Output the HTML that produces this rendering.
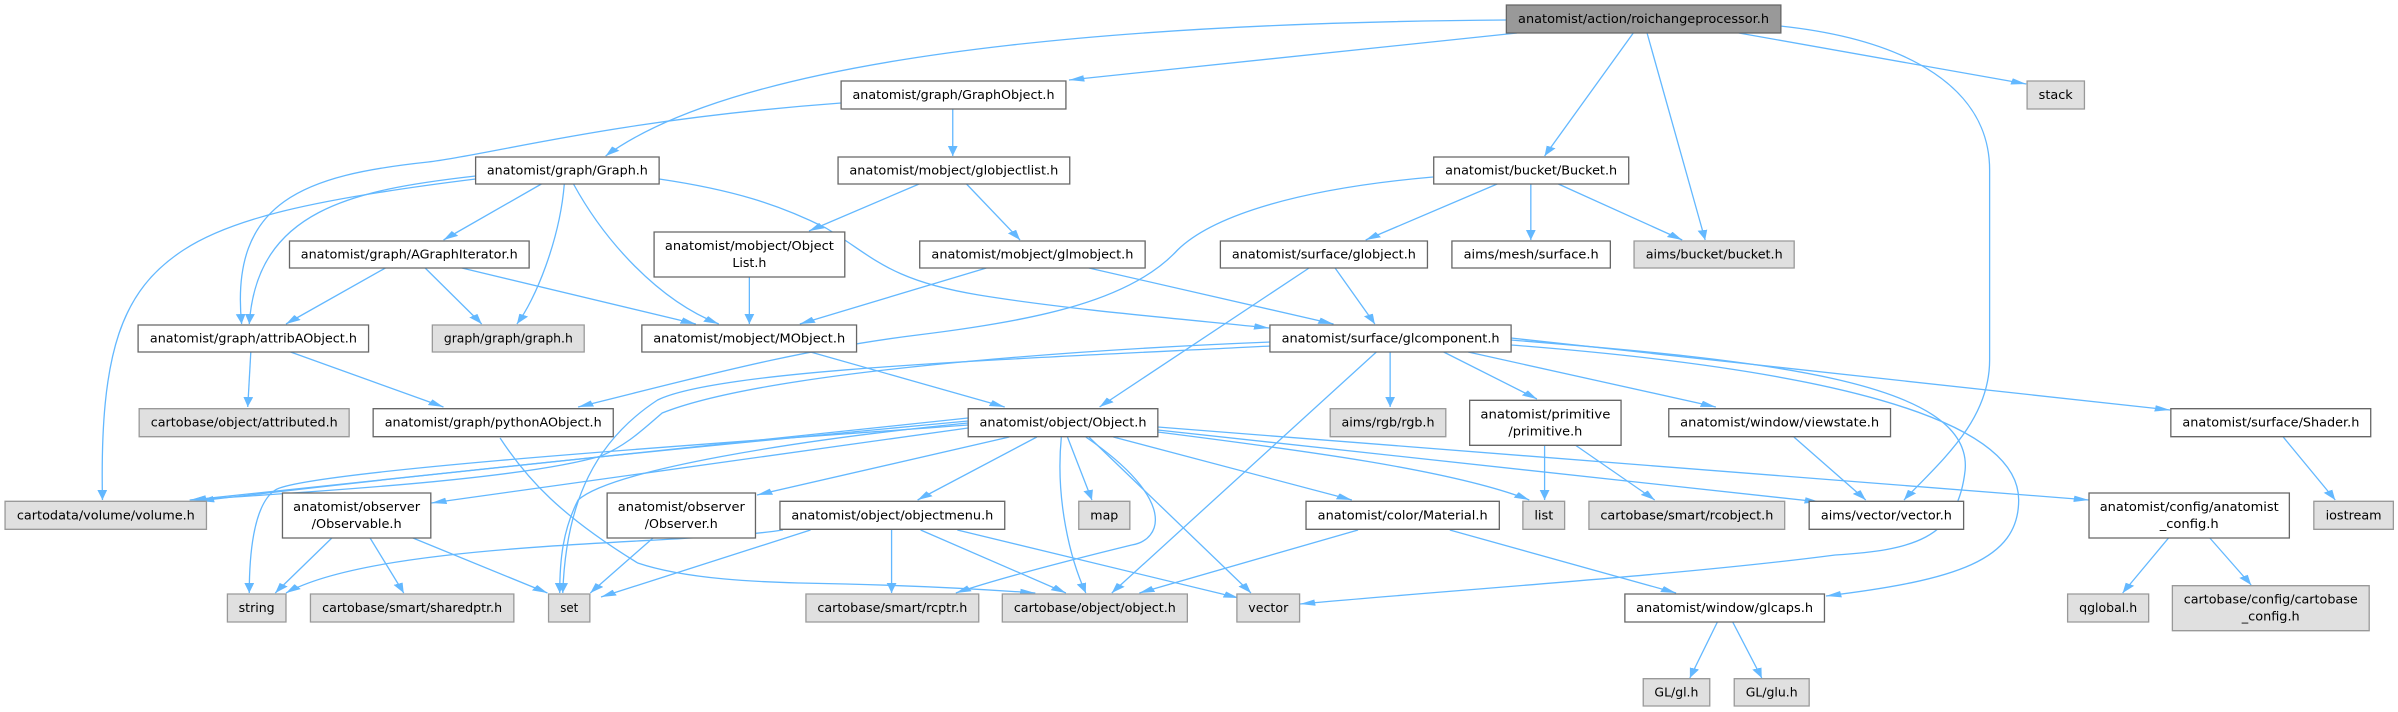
<!DOCTYPE html>
<html><head><meta charset="utf-8"><style>
html,body{margin:0;padding:0;background:#fff;}
svg{display:block;}
.n{fill:#fff;stroke:#666;}
.g{fill:#e0e0e0;stroke:#999;}
.r{fill:#999;stroke:#666;}
rect{vector-effect:non-scaling-stroke;stroke-width:1.3;}
path.e{fill:none;stroke:#63b8ff;stroke-width:1.3;vector-effect:non-scaling-stroke;marker-end:url(#a);}
text{font-family:"DejaVu Sans","Liberation Sans",sans-serif;font-size:12px;fill:#000;text-anchor:middle;}
</style></head><body>
<svg width="2398" height="712" viewBox="0 0 2398 712" xmlns="http://www.w3.org/2000/svg">
<defs><marker id="a" markerUnits="userSpaceOnUse" markerWidth="12" markerHeight="8" refX="10" refY="3.2" orient="auto"><path d="M0,0 L10,3.2 L0,6.4 z" fill="#63b8ff"/></marker></defs>
<g transform="scale(1.5293,1)">
<path class="e" d="M985,20 C800,22 500,40 396,156"/>
<path class="e" d="M992,33 L699,80"/>
<path class="e" d="M1068,33 L1010,156"/>
<path class="e" d="M1077,33 L1115,240"/>
<path class="e" d="M1137,33 L1325,84"/>
<path class="e" d="M1164,26 C1250,40 1301,90 1301,170 L1301,360 C1301,420 1270,460 1245,500"/>
<path class="e" d="M623,109 L623,156"/>
<path class="e" d="M550,103 C400,120 320,155 280,162 C200,175 150,200 158,324"/>
<path class="e" d="M601,184 L529,231"/>
<path class="e" d="M632,184 L667,240"/>
<path class="e" d="M354,184 L290,240"/>
<path class="e" d="M369,184 C366,240 350,300 338,324"/>
<path class="e" d="M375,184 C395,240 430,300 470,324"/>
<path class="e" d="M311,176 C230,190 168,210 163,324"/>
<path class="e" d="M311,179 C200,200 150,220 120,250 C80,290 65,350 67,500"/>
<path class="e" d="M431,179 C480,190 510,205 540,228 C570,255 580,280 640,295 C700,310 780,320 830,328"/>
<path class="e" d="M252,268 L187,324"/>
<path class="e" d="M278,268 L315,324"/>
<path class="e" d="M302,268 L455,324"/>
<path class="e" d="M490,277 L490,324"/>
<path class="e" d="M645,268 L523,324"/>
<path class="e" d="M712,268 L872,324"/>
<path class="e" d="M979,184 L893,240"/>
<path class="e" d="M1001,184 L1001,240"/>
<path class="e" d="M1019,184 L1100,240"/>
<path class="e" d="M937,177 C840,190 790,220 770,250 C740,300 680,320 600,335 C520,350 450,380 378,407"/>
<path class="e" d="M856,268 L719,407"/>
<path class="e" d="M873,268 L899,324"/>
<path class="e" d="M530,352 L657,407"/>
<path class="e" d="M164,352 L162,407"/>
<path class="e" d="M190,352 L290,407"/>
<path class="e" d="M831,342 C700,350 500,372 433,413 C420,430 410,445 393,456 C340,480 200,492 124,500"/>
<path class="e" d="M831,346 C650,360 470,370 430,400 C390,440 370,500 368,593"/>
<path class="e" d="M900,352 L727,593"/>
<path class="e" d="M909,352 L909,407"/>
<path class="e" d="M944,352 L1005,399"/>
<path class="e" d="M960,352 L1122,407"/>
<path class="e" d="M988,338 L1419,410"/>
<path class="e" d="M988,340 C1150,360 1290,380 1285,470 C1280,540 1250,550 1200,555 C1100,575 950,590 850,604"/>
<path class="e" d="M988,345 C1200,370 1320,420 1320,500 C1320,560 1280,580 1194,596"/>
<path class="e" d="M327,438 C345,480 367,516 417,563 C450,580 500,582 523,583 C600,585 650,590 677,593"/>
<path class="e" d="M633,418 L125,500"/>
<path class="e" d="M633,421 C500,440 300,470 130,501"/>
<path class="e" d="M633,425 C500,440 200,470 180,490 C165,505 163,560 163,593"/>
<path class="e" d="M633,428 L282,503"/>
<path class="e" d="M633,423 C520,440 400,470 378,500 C368,530 366,560 366,593"/>
<path class="e" d="M660,437 L495,495"/>
<path class="e" d="M678,437 L600,500"/>
<path class="e" d="M698,437 L714,500"/>
<path class="e" d="M710,437 C770,500 760,540 740,545 C700,560 650,580 625,593"/>
<path class="e" d="M694,437 C690,500 700,560 710,593"/>
<path class="e" d="M712,437 L818,593"/>
<path class="e" d="M728,437 L884,500"/>
<path class="e" d="M757,432 C850,450 950,470 1000,500"/>
<path class="e" d="M757,430 L1190,502"/>
<path class="e" d="M757,427 L1366,500"/>
<path class="e" d="M217,538 L180,593"/>
<path class="e" d="M242,538 L264,593"/>
<path class="e" d="M270,538 L358,593"/>
<path class="e" d="M427,538 L386,593"/>
<path class="e" d="M512,530 C450,545 250,540 187,593"/>
<path class="e" d="M530,530 L393,597"/>
<path class="e" d="M583,530 L583,593"/>
<path class="e" d="M602,530 L697,593"/>
<path class="e" d="M626,530 L810,598"/>
<path class="e" d="M888,530 L745,593"/>
<path class="e" d="M948,530 L1096,593"/>
<path class="e" d="M1010,445 L1010,500"/>
<path class="e" d="M1030,445 L1082,500"/>
<path class="e" d="M1173,437 L1220,500"/>
<path class="e" d="M1418,538 L1388,593"/>
<path class="e" d="M1445,538 L1472,585"/>
<path class="e" d="M1493,437 L1527,500"/>
<path class="e" d="M1123,622 L1105,678"/>
<path class="e" d="M1133,622 L1152,678"/>
<rect class="r" x="985" y="5" width="179.5" height="28"/>
<rect class="n" x="550" y="81" width="147" height="28"/>
<rect class="g" x="1325.5" y="81" width="37.5" height="28"/>
<rect class="n" x="311" y="157" width="120" height="27"/>
<rect class="n" x="548" y="157" width="151.5" height="27"/>
<rect class="n" x="937.5" y="157" width="127.5" height="27"/>
<rect class="n" x="189.3" y="241" width="156.7" height="27"/>
<rect class="n" x="427.7" y="232" width="124.7" height="45"/>
<rect class="n" x="601.4" y="241" width="147.4" height="27"/>
<rect class="n" x="798" y="241" width="135.4" height="27"/>
<rect class="n" x="949.4" y="241" width="103.6" height="27"/>
<rect class="g" x="1068.5" y="241" width="104.7" height="27"/>
<rect class="n" x="90.3" y="325" width="150.7" height="27"/>
<rect class="g" x="282.7" y="325" width="99.3" height="27"/>
<rect class="n" x="419.7" y="325" width="140.4" height="27"/>
<rect class="n" x="830.4" y="325" width="157.7" height="27"/>
<rect class="g" x="91" y="408.7" width="137.3" height="28"/>
<rect class="n" x="244" y="408.7" width="157" height="28"/>
<rect class="n" x="633.1" y="408.7" width="124" height="28"/>
<rect class="g" x="869.8" y="408.7" width="75.6" height="28"/>
<rect class="n" x="961" y="400.3" width="99" height="45"/>
<rect class="n" x="1091.2" y="408.7" width="145" height="28"/>
<rect class="n" x="1419.5" y="408.7" width="130.7" height="28"/>
<rect class="g" x="3.3" y="501.3" width="131.7" height="28"/>
<rect class="n" x="184.7" y="493" width="97" height="45"/>
<rect class="n" x="397" y="493" width="97" height="45"/>
<rect class="n" x="510" y="501.3" width="147" height="28"/>
<rect class="g" x="705.4" y="501.3" width="33.4" height="28"/>
<rect class="n" x="854" y="501.3" width="126.4" height="28"/>
<rect class="g" x="995.8" y="501.3" width="27.3" height="28"/>
<rect class="g" x="1039" y="501.3" width="128" height="28"/>
<rect class="n" x="1183" y="501.3" width="101" height="28"/>
<rect class="n" x="1366" y="493" width="131" height="45"/>
<rect class="g" x="1513" y="501.3" width="52" height="28"/>
<rect class="g" x="148.7" y="594" width="38.3" height="28"/>
<rect class="g" x="203" y="594" width="133" height="28"/>
<rect class="g" x="358.7" y="594" width="27" height="28"/>
<rect class="g" x="527" y="594" width="113" height="28"/>
<rect class="g" x="655.4" y="594" width="121" height="28"/>
<rect class="g" x="808.8" y="594" width="41" height="28"/>
<rect class="n" x="1062.5" y="594" width="130.5" height="28"/>
<rect class="g" x="1352" y="594" width="53" height="28"/>
<rect class="g" x="1420.5" y="585.7" width="128.7" height="45"/>
<rect class="g" x="1074.5" y="678.7" width="43.5" height="27.3"/>
<rect class="g" x="1134" y="678.7" width="49" height="27.3"/>
<g>
<text transform="translate(1074.7,23) scale(0.6539,1)" textLength="251" lengthAdjust="spacingAndGlyphs">anatomist/action/roichangeprocessor.h</text>
<text transform="translate(623.5,99) scale(0.6539,1)" textLength="202" lengthAdjust="spacingAndGlyphs">anatomist/graph/GraphObject.h</text>
<text transform="translate(1344.2,99) scale(0.6539,1)" textLength="34" lengthAdjust="spacingAndGlyphs">stack</text>
<text transform="translate(371,174.5) scale(0.6539,1)" textLength="161" lengthAdjust="spacingAndGlyphs">anatomist/graph/Graph.h</text>
<text transform="translate(623.7,174.5) scale(0.6539,1)" textLength="209" lengthAdjust="spacingAndGlyphs">anatomist/mobject/globjectlist.h</text>
<text transform="translate(1001.2,174.5) scale(0.6539,1)" textLength="172" lengthAdjust="spacingAndGlyphs">anatomist/bucket/Bucket.h</text>
<text transform="translate(267.6,258.5) scale(0.6539,1)" textLength="217" lengthAdjust="spacingAndGlyphs">anatomist/graph/AGraphIterator.h</text>
<text transform="translate(490,250) scale(0.6539,1)" textLength="169" lengthAdjust="spacingAndGlyphs">anatomist/mobject/Object</text>
<text transform="translate(490,267) scale(0.6539,1)" textLength="34" lengthAdjust="spacingAndGlyphs">List.h</text>
<text transform="translate(675.1,258.5) scale(0.6539,1)" textLength="202" lengthAdjust="spacingAndGlyphs">anatomist/mobject/glmobject.h</text>
<text transform="translate(865.7,258.5) scale(0.6539,1)" textLength="184" lengthAdjust="spacingAndGlyphs">anatomist/surface/globject.h</text>
<text transform="translate(1001.2,258.5) scale(0.6539,1)" textLength="135" lengthAdjust="spacingAndGlyphs">aims/mesh/surface.h</text>
<text transform="translate(1120.9,258.5) scale(0.6539,1)" textLength="137" lengthAdjust="spacingAndGlyphs">aims/bucket/bucket.h</text>
<text transform="translate(165.7,342.5) scale(0.6539,1)" textLength="207" lengthAdjust="spacingAndGlyphs">anatomist/graph/attribAObject.h</text>
<text transform="translate(332.4,342.5) scale(0.6539,1)" textLength="129" lengthAdjust="spacingAndGlyphs">graph/graph/graph.h</text>
<text transform="translate(489.9,342.5) scale(0.6539,1)" textLength="192" lengthAdjust="spacingAndGlyphs">anatomist/mobject/MObject.h</text>
<text transform="translate(909.3,342.5) scale(0.6539,1)" textLength="218" lengthAdjust="spacingAndGlyphs">anatomist/surface/glcomponent.h</text>
<text transform="translate(159.7,426.7) scale(0.6539,1)" textLength="187" lengthAdjust="spacingAndGlyphs">cartobase/object/attributed.h</text>
<text transform="translate(322.5,426.7) scale(0.6539,1)" textLength="217" lengthAdjust="spacingAndGlyphs">anatomist/graph/pythonAObject.h</text>
<text transform="translate(695.1,426.7) scale(0.6539,1)" textLength="167" lengthAdjust="spacingAndGlyphs">anatomist/object/Object.h</text>
<text transform="translate(907.6,426.7) scale(0.6539,1)" textLength="93" lengthAdjust="spacingAndGlyphs">aims/rgb/rgb.h</text>
<text transform="translate(1010.5,418.5) scale(0.6539,1)" textLength="130" lengthAdjust="spacingAndGlyphs">anatomist/primitive</text>
<text transform="translate(1010.5,435.5) scale(0.6539,1)" textLength="74" lengthAdjust="spacingAndGlyphs">/primitive.h</text>
<text transform="translate(1163.7,426.7) scale(0.6539,1)" textLength="199" lengthAdjust="spacingAndGlyphs">anatomist/window/viewstate.h</text>
<text transform="translate(1484.9,426.7) scale(0.6539,1)" textLength="177" lengthAdjust="spacingAndGlyphs">anatomist/surface/Shader.h</text>
<text transform="translate(69.2,519.3) scale(0.6539,1)" textLength="178" lengthAdjust="spacingAndGlyphs">cartodata/volume/volume.h</text>
<text transform="translate(233.2,511) scale(0.6539,1)" textLength="127" lengthAdjust="spacingAndGlyphs">anatomist/observer</text>
<text transform="translate(233.2,528) scale(0.6539,1)" textLength="90" lengthAdjust="spacingAndGlyphs">/Observable.h</text>
<text transform="translate(445.5,511) scale(0.6539,1)" textLength="127" lengthAdjust="spacingAndGlyphs">anatomist/observer</text>
<text transform="translate(445.5,528) scale(0.6539,1)" textLength="73" lengthAdjust="spacingAndGlyphs">/Observer.h</text>
<text transform="translate(583.5,519.3) scale(0.6539,1)" textLength="202" lengthAdjust="spacingAndGlyphs">anatomist/object/objectmenu.h</text>
<text transform="translate(722.1,519.3) scale(0.6539,1)" textLength="28" lengthAdjust="spacingAndGlyphs">map</text>
<text transform="translate(917.2,519.3) scale(0.6539,1)" textLength="170" lengthAdjust="spacingAndGlyphs">anatomist/color/Material.h</text>
<text transform="translate(1009.5,519.3) scale(0.6539,1)" textLength="19" lengthAdjust="spacingAndGlyphs">list</text>
<text transform="translate(1103,519.3) scale(0.6539,1)" textLength="173" lengthAdjust="spacingAndGlyphs">cartobase/smart/rcobject.h</text>
<text transform="translate(1233.5,519.3) scale(0.6539,1)" textLength="131" lengthAdjust="spacingAndGlyphs">aims/vector/vector.h</text>
<text transform="translate(1431.5,511) scale(0.6539,1)" textLength="179" lengthAdjust="spacingAndGlyphs">anatomist/config/anatomist</text>
<text transform="translate(1431.5,528) scale(0.6539,1)" textLength="59" lengthAdjust="spacingAndGlyphs">_config.h</text>
<text transform="translate(1539,519.3) scale(0.6539,1)" textLength="56" lengthAdjust="spacingAndGlyphs">iostream</text>
<text transform="translate(167.8,612) scale(0.6539,1)" textLength="36" lengthAdjust="spacingAndGlyphs">string</text>
<text transform="translate(269.5,612) scale(0.6539,1)" textLength="180" lengthAdjust="spacingAndGlyphs">cartobase/smart/sharedptr.h</text>
<text transform="translate(372.2,612) scale(0.6539,1)" textLength="18" lengthAdjust="spacingAndGlyphs">set</text>
<text transform="translate(583.5,612) scale(0.6539,1)" textLength="150" lengthAdjust="spacingAndGlyphs">cartobase/smart/rcptr.h</text>
<text transform="translate(715.9,612) scale(0.6539,1)" textLength="162" lengthAdjust="spacingAndGlyphs">cartobase/object/object.h</text>
<text transform="translate(829.3,612) scale(0.6539,1)" textLength="40" lengthAdjust="spacingAndGlyphs">vector</text>
<text transform="translate(1127.7,612) scale(0.6539,1)" textLength="177" lengthAdjust="spacingAndGlyphs">anatomist/window/glcaps.h</text>
<text transform="translate(1378.5,612) scale(0.6539,1)" textLength="58" lengthAdjust="spacingAndGlyphs">qglobal.h</text>
<text transform="translate(1484.8,603.7) scale(0.6539,1)" textLength="174" lengthAdjust="spacingAndGlyphs">cartobase/config/cartobase</text>
<text transform="translate(1484.8,620.7) scale(0.6539,1)" textLength="58" lengthAdjust="spacingAndGlyphs">_config.h</text>
<text transform="translate(1096.2,696.5) scale(0.6539,1)" textLength="44" lengthAdjust="spacingAndGlyphs">GL/gl.h</text>
<text transform="translate(1158.5,696.5) scale(0.6539,1)" textLength="52" lengthAdjust="spacingAndGlyphs">GL/glu.h</text>
</g>
</g>
</svg>
</body></html>
